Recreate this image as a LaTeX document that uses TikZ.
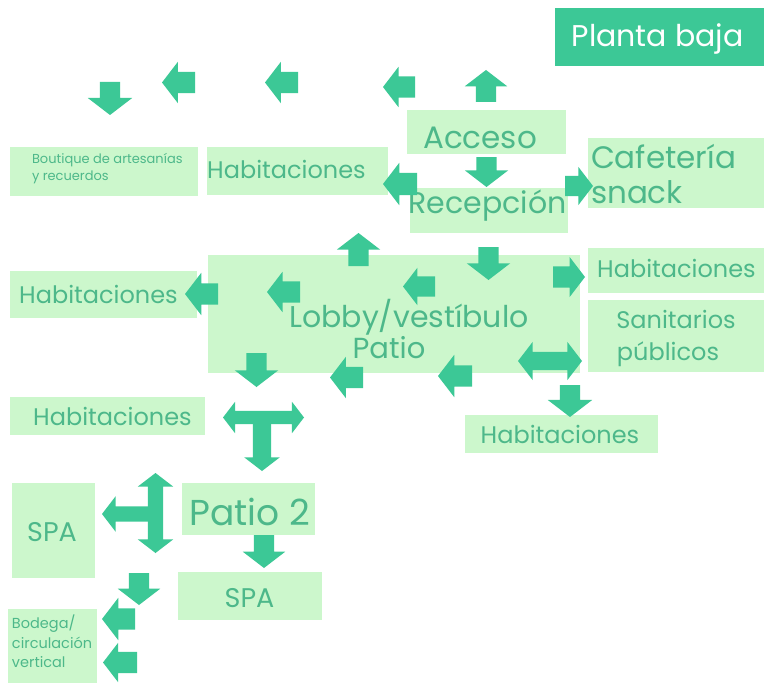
\documentclass[tikz,border=0pt]{standalone}
\usepackage{fontspec}
\setmainfont{Poppins}
\usetikzlibrary{shapes.arrows}
\definecolor{ac}{HTML}{3CC896}
\definecolor{lb}{HTML}{CCF7CC}
\definecolor{tc}{HTML}{4DB88A}
\newcommand\fsz[1]{\fontsize{#1}{#1}\selectfont}
% name, tail x, tail y, rotation, length, head width, shaft width
\newcommand\sarr[7]{\node[sa, rotate=#4, minimum height=#5pt, minimum width=#6pt,
  inner ysep=#7pt/2, single arrow head extend={(#6-#7)/2*1pt}] (#1) at (#2,#3) {};}
% name, center x, center y, rotation, length, head width, shaft width
\newcommand\darr[7]{\node[da, rotate=#4, minimum height=#5pt, minimum width=#6pt,
  inner ysep=#7pt/2, double arrow head extend={(#6-#7)/2*1pt}] (#1) at (#2,#3) {};}
% name, x1, y1, x2, y2
\newcommand\bx[5]{\node[box, minimum width={(#4-#2)*1pt}, minimum height={(#5-#3)*1pt}]
  (#1) at ({(#2+#4)/2},{(#3+#5)/2}) {};}
\begin{document}
\begin{tikzpicture}[x=1pt,y=-1pt,
  box/.style={fill=lb, draw=none, inner sep=0pt, outer sep=0pt},
  dbox/.style={fill=ac, draw=none, inner sep=0pt, outer sep=0pt},
  txt/.style={text=tc, inner sep=0pt, outer sep=0pt, anchor=base},
  sa/.style={shape=single arrow, fill=ac, draw=none, anchor=tail, inner xsep=0pt,
    text height=0pt, text depth=0pt, outer sep=0pt, single arrow tip angle=105,
    single arrow head indent=0pt},
  da/.style={shape=double arrow, fill=ac, draw=none, anchor=center, inner xsep=0pt,
    text height=0pt, text depth=0pt, outer sep=0pt, double arrow tip angle=105,
    double arrow head indent=0pt}]
\path[use as bounding box, fill=white] (0,0) rectangle (764,685);

% boxes
\node[dbox, minimum width=209pt, minimum height=58pt] (planta) at (659.5,37) {};
\bx{acceso}{407}{110}{566}{154}
\bx{recep}{410}{188}{568}{233}
\bx{cafe}{588}{138}{764}{208}
\bx{bout}{10}{147}{198}{196}
\bx{habA}{207}{147}{388}{195}
\bx{lobby}{208}{255}{580}{373}
\bx{habL}{10}{271}{197}{318}
\bx{habR}{588}{248}{764}{293}
\bx{sanit}{588}{300}{764}{372}
\bx{habBR}{465}{415}{658}{453}
\bx{habLL}{10}{397}{205}{435}
\bx{patio}{182}{483}{315}{535}
\bx{spaL}{12}{483}{95}{578}
\bx{spaB}{178}{572}{322}{620}
\bx{bodega}{8}{609}{97}{683}

% texts
\node[txt, text=white, font=\fsz{30}] (plantaT) at (657.5,47) {Planta baja};
\node[txt, font=\fsz{31}] (accesoT) at (480,148) {Acceso};
\node[txt, font=\fsz{30}] (recepT) at (487.5,213) {Recepción};
\node[txt, font=\fsz{31}, anchor=base west] (cafeT1) at (591,168) {Cafetería};
\node[txt, font=\fsz{31}, anchor=base west] (cafeT2) at (591,203) {snack};
\node[txt, font=\fsz{13}, anchor=base west] (boutT1) at (32,164) {Boutique de artesanías};
\node[txt, font=\fsz{13}, anchor=base west] (boutT2) at (32,180) {y recuerdos};
\node[txt, font=\fsz{24}] (habAT) at (286.5,178) {Habitaciones};
\node[txt, font=\fsz{24}] (habLT) at (98.5,303) {Habitaciones};
\node[txt, font=\fsz{30}] (lobbyT1) at (409,327) {Lobby/vestíbulo};
\node[txt, font=\fsz{29}] (lobbyT2) at (389,358) {Patio};
\node[txt, font=\fsz{24}] (habRT) at (676.5,277) {Habitaciones};
\node[txt, font=\fsz{24}] (sanitT1) at (676,328) {Sanitarios};
\node[txt, font=\fsz{24}] (sanitT2) at (668,360) {públicos};
\node[txt, font=\fsz{24}] (habBRT) at (560,443) {Habitaciones};
\node[txt, font=\fsz{24}] (habLLT) at (112.5,425) {Habitaciones};
\node[txt, font=\fsz{36}] (patioT) at (249.5,525) {Patio 2};
\node[txt, font=\fsz{27}] (spaLT) at (52,541) {SPA};
\node[txt, font=\fsz{27}] (spaBT) at (249.5,607) {SPA};
\node[txt, font=\fsz{14.5}, anchor=base west] (bodT1) at (12,628) {Bodega/};
\node[txt, font=\fsz{14.5}, anchor=base west] (bodT2) at (12,648) {circulación};
\node[txt, font=\fsz{14.5}, anchor=base west] (bodT3) at (12,667) {vertical};

% arrows
\sarr{a1}{110}{82}{-90}{33}{44}{20}
\sarr{a2}{195}{82.5}{180}{33}{41}{21}
\sarr{a3}{298}{82.5}{180}{33}{41}{21}
\sarr{a4}{415}{87}{180}{32}{40}{21}
\sarr{a5}{486}{102}{90}{32}{42}{20}
\sarr{a6}{486.5}{157}{-90}{30}{43}{20}
\sarr{a7}{417}{184}{180}{34}{42}{22}
\sarr{a8}{565}{186}{0}{28}{38}{20}
\sarr{a9}{358.5}{266}{90}{33}{43}{20}
\sarr{a10}{488.5}{247}{-90}{33}{43}{20}
\sarr{a11}{435}{286.5}{180}{32}{37}{20}
\sarr{a12}{300}{292}{180}{33}{40}{21}
\sarr{a13}{218}{294}{180}{33}{42}{21}
\sarr{a14}{553}{277}{0}{32}{40}{21}
\sarr{a15}{256.5}{353}{-90}{34}{43}{20}
\sarr{a16}{363}{377.5}{180}{33}{41}{21}
\sarr{a17}{472}{376}{180}{34}{42}{21}
\darr{a18}{550}{361}{0}{64}{38}{18}
\sarr{a19}{570}{385}{-90}{32}{44}{20}
\darr{a20}{263.5}{417.5}{0}{81}{31}{13}
\sarr{a21}{262}{417.5}{-90}{53.5}{35}{18}
\darr{a22}{155.5}{513}{90}{80}{35}{15}
\sarr{a23}{155.5}{514}{180}{53.5}{35}{15}
\sarr{a24}{264}{535}{-90}{33}{42}{20}
\sarr{a25}{139}{573}{-90}{32}{42}{20}
\sarr{a26}{135}{619}{180}{33}{42}{21}
\sarr{a27}{137}{662.5}{180}{34}{39}{21}
\end{tikzpicture}
\end{document}
